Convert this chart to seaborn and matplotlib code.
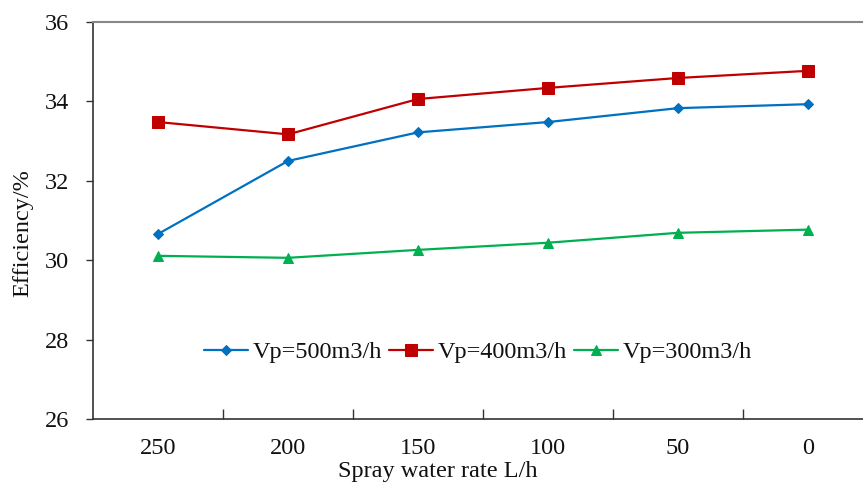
import matplotlib
matplotlib.use("Agg")
import matplotlib.pyplot as plt
import seaborn as sns
import pandas as pd

categories = ["250", "200", "150", "100", "50", "0"]
series_names = ["Vp=500m3/h", "Vp=400m3/h", "Vp=300m3/h"]
vp500 = [30.66, 32.50, 33.22, 33.48, 33.83, 33.93]
vp400 = [33.48, 33.17, 34.06, 34.34, 34.59, 34.77]
vp300 = [30.11, 30.06, 30.26, 30.44, 30.69, 30.77]
colors = ["#0070C0", "#C00000", "#00B050"]
markers = ["D", "s", "^"]
msizes = [5.5, 8, 7.5]

rows = []
for name, vals in zip(series_names, [vp500, vp400, vp300]):
    for c, v in zip(categories, vals):
        rows.append({"cat": c, "val": v, "series": name})
df = pd.DataFrame(rows)

sns.set_theme(style="white")
plt.rcParams["font.family"] = ["Liberation Serif", "DejaVu Serif"]

fig = plt.figure(figsize=(8.63, 4.86), dpi=100)
ax = fig.add_axes([93/863, 1-419/486, 780/863, 397/486])

for name, col, mk, ms in zip(series_names, colors, markers, msizes):
    sub = df[df["series"] == name]
    sns.lineplot(data=sub, x="cat", y="val", ax=ax, color=col, marker=mk,
                 markersize=ms, markeredgecolor=col, linewidth=1.6, label=name,
                 sort=False)

ax.set_xlim(-0.5, 5.5)
ax.set_ylim(26, 36)
ax.set_yticks([26, 28, 30, 32, 34, 36])
ax.set_xticks(range(len(categories)))
ax.set_xticklabels(categories)
ax.set_xticks([i + 0.5 for i in range(len(categories) - 1)], minor=True)
ax.tick_params(axis="x", which="major", length=0, pad=14, labelsize=17.5, labelcolor="#111111")
ax.tick_params(axis="x", which="minor", length=7, direction="in", width=1, color="#333333", bottom=True)
ax.tick_params(axis="y", which="major", length=5, direction="out", width=1, left=True,
               labelsize=17.5, pad=12, color="#333333", labelcolor="#111111")

for s in ["left", "bottom"]:
    ax.spines[s].set_color("#333333")
    ax.spines[s].set_linewidth(1.2)
ax.spines["top"].set_color("#888888")
ax.spines["top"].set_linewidth(1.5)
ax.spines["right"].set_visible(False)

ax.set_xlabel("Spray water rate L/h", fontsize=17.5, color="#111111")
ax.xaxis.set_label_coords((438-93)/780, (419-461)/397)
ax.set_ylabel("Efficiency/%", fontsize=17.5, color="#111111")
ax.yaxis.set_label_coords((33-93)/780, (419-233)/397)

leg = ax.legend(loc="center", bbox_to_anchor=((478-93)/780, (419-352)/397), ncol=3,
                frameon=False, handlelength=1.8, columnspacing=0.3,
                handletextpad=0.2, prop={"family": "Liberation Serif", "size": 17.5})
for t in leg.get_texts():
    t.set_color("#111111")

fig.savefig("out.png", dpi=100)
